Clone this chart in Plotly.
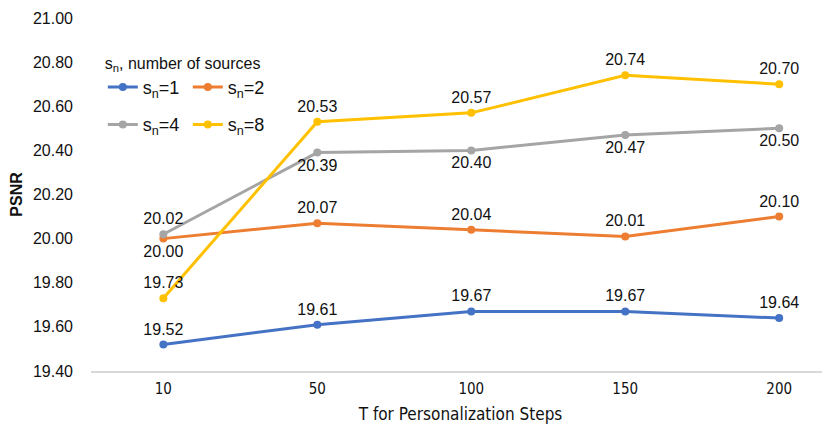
import plotly.graph_objects as go

categories = ["10", "50", "100", "150", "200"]
sn1 = [19.52, 19.61, 19.67, 19.67, 19.64]
sn2 = [20.00, 20.07, 20.04, 20.01, 20.10]
sn4 = [20.02, 20.39, 20.40, 20.47, 20.50]
sn8 = [19.73, 20.53, 20.57, 20.74, 20.70]
y_ticks = [19.40, 19.60, 19.80, 20.00, 20.20, 20.40, 20.60, 20.80, 21.00]

series = [
    ("s<sub>n</sub>=1", sn1, "#4472C4", ["top center"] * 5, "legend"),
    ("s<sub>n</sub>=2", sn2, "#ED7D31", ["bottom center"] + ["top center"] * 4, "legend"),
    ("s<sub>n</sub>=4", sn4, "#A5A5A5", ["top center"] + ["bottom center"] * 4, "legend2"),
    ("s<sub>n</sub>=8", sn8, "#FFC000", ["top center"] * 5, "legend2"),
]

font = "Liberation Sans"
narrow = "Liberation Sans Narrow, DejaVu Sans Condensed, Liberation Sans"
fig = go.Figure()
for name, vals, color, pos, lg in series:
    fig.add_trace(go.Scatter(
        x=categories, y=vals, name=name, mode="lines+markers+text",
        line=dict(color=color, width=3),
        marker=dict(color=color, size=8),
        text=[f"{v:.2f}" for v in vals], textposition=pos,
        textfont=dict(size=16, color="#111111", family=font),
        cliponaxis=False, legend=lg,
    ))

fig.update_layout(
    width=822, height=423,
    margin=dict(l=83, r=0, t=10, b=60),
    paper_bgcolor="white", plot_bgcolor="white",
    font=dict(family=font, color="#111111"),
    showlegend=True,
    legend=dict(
        x=0.016, y=0.915, xanchor="left", yanchor="top",
        orientation="h", entrywidth=40, itemwidth=30,
        title=dict(text="s<sub>n</sub>, number of sources", side="top", font=dict(size=16)),
        font=dict(size=18), bgcolor="rgba(0,0,0,0)", traceorder="normal",
    ),
    legend2=dict(
        x=0.016, y=0.75, xanchor="left", yanchor="top",
        orientation="h", entrywidth=40, itemwidth=30,
        font=dict(size=18), bgcolor="rgba(0,0,0,0)", traceorder="normal",
    ),
    xaxis=dict(
        type="category", range=[-0.47, 4.33],
        showline=True, linecolor="#D9D9D9", linewidth=1.5,
        showgrid=False, ticks="", zeroline=False,
        tickfont=dict(size=15, family=narrow), ticklabelstandoff=3,
        title=dict(text="T for Personalization Steps", font=dict(size=17, family=narrow), standoff=11),
    ),
    yaxis=dict(
        range=[19.40, 21.00], tickvals=y_ticks,
        ticktext=[f"{v:.2f}" for v in y_ticks],
        showgrid=False, showline=False, zeroline=False, ticks="",
        tickfont=dict(size=16), ticklabelstandoff=17,
        title=dict(text="<b>PSNR</b>", font=dict(size=16), standoff=8),
    ),
)

fig.write_html("out.html")
